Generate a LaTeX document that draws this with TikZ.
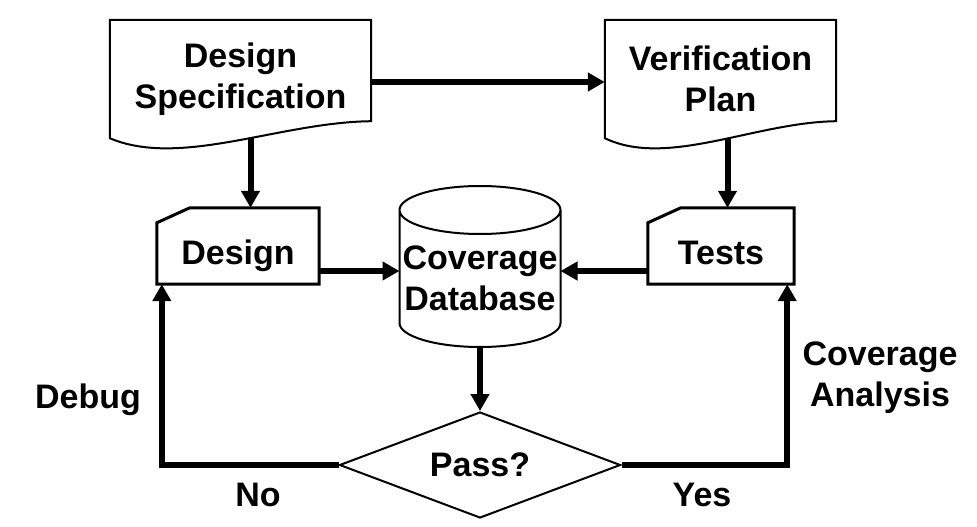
\documentclass[tikz,border=0pt]{standalone}
\usepackage{fontspec}
\setmainfont{Liberation Sans}
\usetikzlibrary{shapes.geometric,arrows.meta,calc}

\tikzset{
  txt/.style={font=\fontsize{34}{41}\selectfont\bfseries, align=center, inner sep=0pt},
  docbox/.style={txt, minimum height=118pt},
  card/.style={txt, minimum height=76pt, text height=36pt, text depth=0pt},
  flow/.style={line width=6pt, -{Triangle[length=17pt,width=18pt]}},
  loopback/.style={flow, line join=miter},
}

% document outline with wavy bottom
\newcommand{\docoutline}[1]{%
  \draw[line width=2pt] let \p1=(#1.south west), \p2=(#1.north east) in
    (\x1,\y2) -- (\x2,\y2) -- (\x2,\y1+17pt)
    .. controls ({\x1+0.65*(\x2-\x1)},{\y1+16pt}) and ({\x1+0.27*(\x2-\x1)},{\y1-30pt}) .. (\x1,\y1) -- cycle;}
% card outline with cut corner
\newcommand{\cardoutline}[1]{%
  \draw[line width=3pt, line join=miter] (#1.south west) -- ([yshift=-15pt]#1.north west)
    -- ([xshift=33pt]#1.north west) -- (#1.north east) -- (#1.south east) -- cycle;}

\begin{document}
\begin{tikzpicture}[x=1pt,y=-1pt]
  \useasboundingbox (0,0) rectangle (977,527);

  % documents
  \node[docbox, minimum width=261pt] (spec) at (240.5,79) {Design\\Specification};
  \node[docbox, minimum width=231pt] (plan) at (720.5,79) {Verification\\Plan};
  \docoutline{spec}
  \docoutline{plan}

  % cards
  \node[card, minimum width=162pt] (design) at (238,246) {Design};
  \node[card, minimum width=146pt] (tests) at (721,246) {Tests};
  \cardoutline{design}
  \cardoutline{tests}

  % database
  \node[txt] (db) at (480,278) {Coverage\\Database};
  \draw[line width=2pt] (399.5,210) -- (399.5,323)
    arc[start angle=180, end angle=360, x radius=80.5pt, y radius=24pt] -- (560.5,210)
    arc[start angle=0, end angle=360, x radius=80.5pt, y radius=24pt];
  \coordinate (dbw) at (399.5,271);
  \coordinate (dbe) at (560.5,271);
  \coordinate (dbs) at (480,347);

  % decision
  \node[txt, diamond, draw, line width=2pt, aspect=2.65, minimum width=281pt, minimum height=106pt] (pass) at (480,465) {Pass?};

  % labels
  \node[txt] (debug) at (88,400) {Debug};
  \node[txt] (no) at (258,495) {No};
  \node[txt] (yes) at (702,495) {Yes};
  \node[txt] (analysis) at (880,378) {Coverage\\Analysis};

  % connectors
  \draw[flow] ([yshift=-3pt]spec.east) -- ([yshift=-3pt]plan.west);
  \draw[flow] ([xshift=10pt]spec.south) -- ([xshift=10pt]spec.south |- design.north);
  \draw[flow] ([xshift=7pt]plan.south) -- ([xshift=7pt]plan.south |- tests.north);
  \draw[flow] ([yshift=-25pt]design.east) -- (dbw);
  \draw[flow] ([yshift=-25pt]tests.west) -- (dbe);
  \draw[flow] (dbs) -- (pass.north);
  \draw[loopback] (pass.west) -| ([xshift=5pt]design.south west);
  \draw[loopback] (pass.east) -| ([xshift=-7pt]tests.south east);
\end{tikzpicture}
\end{document}
